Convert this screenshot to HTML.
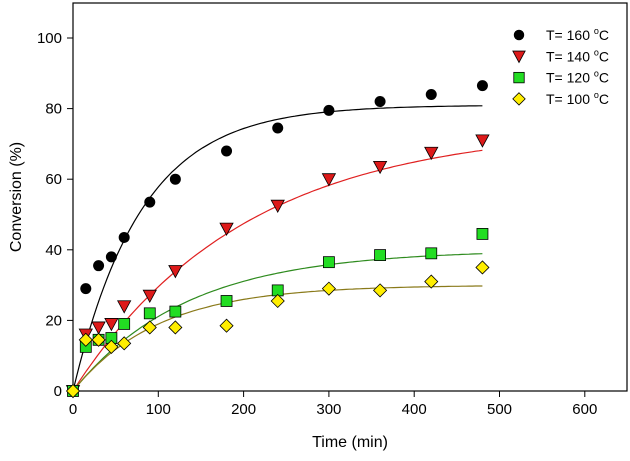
<!DOCTYPE html>
<html><head><meta charset="utf-8"><style>
html,body{margin:0;padding:0;background:#fff;}
svg{display:block;font-family:"Liberation Sans",Arial,sans-serif;}
</style></head><body>
<svg id="chart" width="630" height="461"></svg>
<script>
const times=[15,30,45,60,90,120,180,240,300,360,420,480];
const s160=[29,35.5,38,43.5,53.5,60,68,74.5,79.5,82,84,86.5];
const s140=[16,18,19,24,27,34,46,52.5,60,63.5,67.5,71];
const s120=[12.5,14.5,15,19,22,22.5,25.5,28.5,36.5,38.5,39,44.5];
const s100=[14.5,14.5,12.5,13.5,18,18,18.5,25.5,29,28.5,31,35];
const fitA=[81,75,40,30];
const fitK=[0.0125,0.005,0.0075,0.01];
const xTicks=[0,100,200,300,400,500,600];
const yTicks=[0,20,40,60,80,100];
const labels=["T= 160 ","T= 140 ","T= 120 ","T= 100 "];

const NS="http://www.w3.org/2000/svg";
const svg=document.getElementById('chart');
const X0=73,X1=627,Y0=391,Y1=3;
const xs=t=>X0+t*0.853;
const ys=v=>Y0-v*3.53;
function mk(tag,attrs,parent){const e=document.createElementNS(NS,tag);for(const k in attrs)e.setAttribute(k,attrs[k]);(parent||svg).appendChild(e);return e;}

const frame=mk('rect',{x:X0,y:Y1,width:X1-X0,height:Y0-Y1,fill:'none',stroke:'#000','stroke-width':1.2});



xTicks.forEach(t=>{
  const l=mk('line',{x1:xs(t),x2:xs(t),y1:Y0,y2:Y0+6,stroke:'#000'});
  
  
  const tx=mk('text',{x:xs(t),y:Y0+23,'text-anchor':'middle','font-size':15});
  tx.textContent=t;
  
  
});
yTicks.forEach(v=>{
  const l=mk('line',{x1:X0-6,x2:X0,y1:ys(v),y2:ys(v),stroke:'#000'});
  
  
  const tx=mk('text',{x:X0-11,y:ys(v)+5,'text-anchor':'end','font-size':15});
  tx.textContent=v;
  
  
});
const xt=mk('text',{x:350,y:447,'text-anchor':'middle','font-size':16});
xt.textContent='Time (min)';


const yt=mk('text',{x:0,y:0,'text-anchor':'middle','font-size':16,transform:'translate(21,197) rotate(-90)'});
yt.textContent='Conversion (%)';



const series=[s160,s140,s120,s100];
const lineColors=['#000','#e02020','#2e8b1e','#8a7a1a'];
const fills=['#000','#dd1a1a','#22dd22','#ffee00'];
const names=['160','140','120','100'];

series.forEach((s,i)=>{
  let d='';
  for(let t=0;t<=480;t+=4){const v=fitA[i]*(1-Math.exp(-fitK[i]*t));d+=(t?'L':'M')+xs(t).toFixed(1)+','+ys(v).toFixed(1);}
  const p=mk('path',{d:d,fill:'none',stroke:lineColors[i],'stroke-width':1.2});
  
  
});

function marker(i,cx,cy,parent,sc){
  sc=sc||1;
  let e;
  if(i===0)e=mk('circle',{cx:cx,cy:cy,r:5.5*sc,fill:'#000'},parent);
  else if(i===1)e=mk('polygon',{points:`${cx-6.5*sc},${cy-5.5*sc} ${cx+6.5*sc},${cy-5.5*sc} ${cx},${cy+6.5*sc}`,fill:fills[1],stroke:'#000','stroke-width':0.8},parent);
  else if(i===2)e=mk('rect',{x:cx-5.5*sc,y:cy-5.5*sc,width:11*sc,height:11*sc,fill:fills[2],stroke:'#000','stroke-width':0.8},parent);
  else e=mk('polygon',{points:`${cx},${cy-6.5*sc} ${cx+6.5*sc},${cy} ${cx},${cy+6.5*sc} ${cx-6.5*sc},${cy}`,fill:fills[3],stroke:'#000','stroke-width':0.8},parent);
  return e;
}
series.forEach((s,i)=>{
  const g=mk('g',{});
  
  
  const m0=marker(i,xs(0),ys(0),g);
  
  
  s.forEach((v,j)=>{
    const m=marker(i,xs(times[j]),ys(v),g);
    
    
  });
});

const lg=mk('g',{});


labels.forEach((lab,i)=>{
  const y=35+i*21.3;
  const m=marker(i,519,y,lg,0.95);
  
  
  const t=mk('text',{x:546,y:y+5,'font-size':14},lg);
  t.innerHTML=lab+'<tspan dy="-6" font-size="9">o</tspan><tspan dy="6">C</tspan>';
  
  
});
</script>
</body></html>
